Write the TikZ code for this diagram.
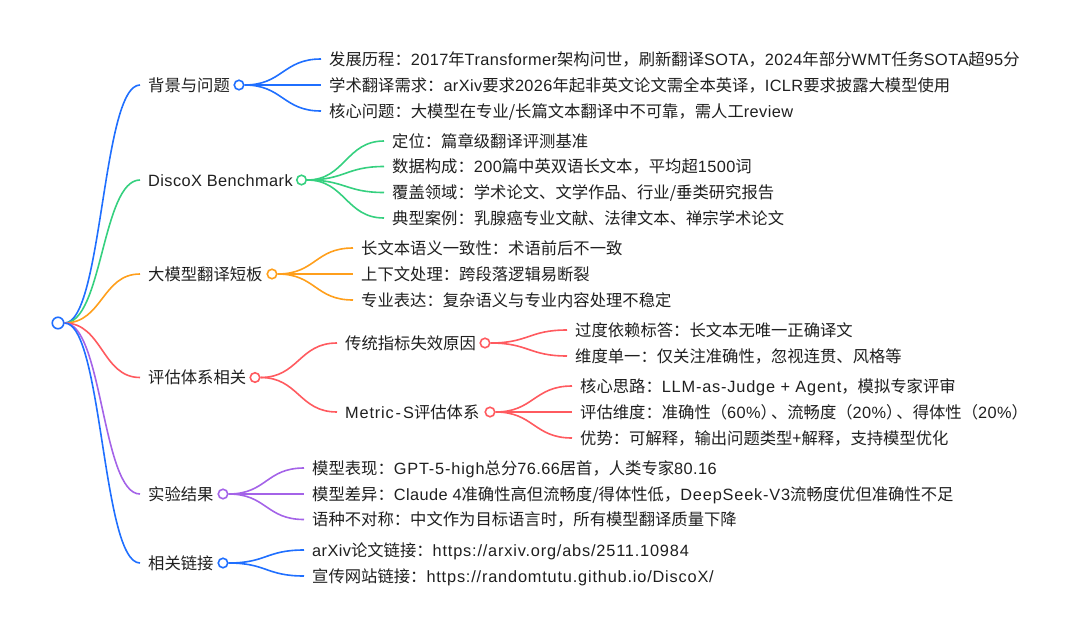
\documentclass[tikz,border=0pt]{standalone}
\usepackage{fontspec}
\usepackage{tikz}
\setmainfont{Noto Sans CJK SC}
\newfontfamily\latfont[LetterSpace=2.5]{Liberation Sans}
\newfontfamily\latwfont[LetterSpace=5]{Liberation Sans}
\newcommand{\lat}[1]{{\latfont #1}}
\newcommand{\latw}[1]{{\latwfont #1}}
\definecolor{cblue}{HTML}{1F6FFF}
\definecolor{cgreen}{HTML}{35D07F}
\definecolor{corange}{HTML}{FF9F1C}
\definecolor{cred}{HTML}{FF5A5F}
\definecolor{cpurple}{HTML}{A463E8}
\tikzset{
	label/.style={anchor=west,inner xsep=8pt,inner ysep=0pt,text height=14pt,text depth=2pt,font=\fontsize{16.33}{16.33}\selectfont,text=black!88},
	dot/.style={circle,draw=#1,fill=white,line width=1.6pt,minimum size=9.5pt,inner sep=0pt},
	link/.style={draw=#1,line width=1.6pt}
}
\begin{document}
\begin{tikzpicture}[x=1pt,y=-1pt]
	\useasboundingbox (0,0) rectangle (1080,635);
	\node[dot=cblue,minimum size=11.5pt] (root) at (58,323) {};

	\node[label] (bg) at (140,85) {背景与问题};
	\node[dot=cblue] (bgdot) at (239,85) {};
	\node[label] (bga) at (321,59) {发展历程：\lat{2017}年\lat{Transformer}架构问世，刷新翻译\lat{SOTA}，\lat{2024}年部分\lat{WMT}任务\lat{SOTA}超\lat{95}分};
	\node[label] (bgb) at (321,85) {学术翻译需求：\lat{arXiv}要求\lat{2026}年起非英文论文需全本英译，\lat{ICLR}要求披露大模型使用};
	\node[label] (bgc) at (321,111) {核心问题：大模型在专业/长篇文本翻译中不可靠，需人工\lat{review}};

	\node[label] (dx) at (140,180) {\lat{DiscoX Benchmark}};
	\node[dot=cgreen] (dxdot) at (301.5,180) {};
	\node[label] (dxa) at (384,141) {定位：篇章级翻译评测基准};
	\node[label] (dxb) at (384,166.5) {数据构成：\lat{200}篇中英双语长文本，平均超\lat{1500}词};
	\node[label] (dxc) at (384,192.5) {覆盖领域：学术论文、文学作品、行业/垂类研究报告};
	\node[label] (dxd) at (384,218) {典型案例：乳腺癌专业文献、法律文本、禅宗学术论文};

	\node[label] (lm) at (140,274) {大模型翻译短板};
	\node[dot=corange] (lmdot) at (272,274) {};
	\node[label] (lma) at (353,248) {长文本语义一致性：术语前后不一致};
	\node[label] (lmb) at (353,274) {上下文处理：跨段落逻辑易断裂};
	\node[label] (lmc) at (353,300) {专业表达：复杂语义与专业内容处理不稳定};

	\node[label] (ev) at (140,377.5) {评估体系相关};
	\node[dot=cred] (evdot) at (255,377.5) {};
	\node[label] (ct) at (337,343) {传统指标失效原因};
	\node[dot=cred] (ctdot) at (485,343) {};
	\node[label] (cta) at (567,330) {过度依赖标答：长文本无唯一正确译文};
	\node[label] (ctb) at (567,356) {维度单一：仅关注准确性，忽视连贯、风格等};
	\node[label] (ms) at (337,412) {\latw{Metric\kern2pt-\kern2pt S}评估体系};
	\node[dot=cred] (msdot) at (490,412) {};
	\node[label] (msa) at (572,386) {核心思路：\latw{LLM-as-Judge + Agent}，模拟专家评审};
	\node[label] (msb) at (572,412) {评估维度：准确性（\lat{60\%}）\kern-6pt、流畅度（\lat{20\%}）\kern-6pt、得体性（\lat{20\%}）};
	\node[label] (msc) at (572,438) {优势：可解释，输出问题类型+解释，支持模型优化};

	\node[label] (ex) at (140,494) {实验结果};
	\node[dot=cpurple] (exdot) at (223,494) {};
	\node[label] (exa) at (304,468) {模型表现：\latw{GPT-5-high}总分\lat{76.66}居首，人类专家\lat{80.16}};
	\node[label] (exb) at (304,494) {模型差异：\lat{Claude 4}准确性高但流畅度/得体性低，\latw{DeepSeek-V3}流畅度优但准确性不足};
	\node[label] (exc) at (304,519.5) {语种不对称：中文作为目标语言时，所有模型翻译质量下降};

	\node[label] (rl) at (140,563) {相关链接};
	\node[dot=cblue] (rldot) at (223,563) {};
	\node[label] (rla) at (304,550) {\lat{arXiv}论文链接：\latw{https://arxiv.org/abs/2511.10984}};
	\node[label] (rlb) at (304,576) {宣传网站链接：\latw{https://randomtutu.github.io/DiscoX/}};

	\draw[link=cblue] (root.east) .. controls +(38,0) and +(-38,0) .. (bg.west);
	\draw[link=cgreen] (root.east) .. controls +(38,0) and +(-38,0) .. (dx.west);
	\draw[link=corange] (root.east) .. controls +(38,0) and +(-38,0) .. (lm.west);
	\draw[link=cred] (root.east) .. controls +(38,0) and +(-38,0) .. (ev.west);
	\draw[link=cpurple] (root.east) .. controls +(38,0) and +(-38,0) .. (ex.west);
	\draw[link=cblue] (root.east) .. controls +(38,0) and +(-38,0) .. (rl.west);

	\foreach \t in {bga,bgb,bgc}
		\draw[link=cblue] (bgdot.east) .. controls +(38,0) and +(-38,0) .. (\t.west);
	\foreach \t in {dxa,dxb,dxc,dxd}
		\draw[link=cgreen] (dxdot.east) .. controls +(38,0) and +(-38,0) .. (\t.west);
	\foreach \t in {lma,lmb,lmc}
		\draw[link=corange] (lmdot.east) .. controls +(38,0) and +(-38,0) .. (\t.west);
	\foreach \t in {ct,ms}
		\draw[link=cred] (evdot.east) .. controls +(38,0) and +(-38,0) .. (\t.west);
	\foreach \t in {cta,ctb}
		\draw[link=cred] (ctdot.east) .. controls +(38,0) and +(-38,0) .. (\t.west);
	\foreach \t in {msa,msb,msc}
		\draw[link=cred] (msdot.east) .. controls +(38,0) and +(-38,0) .. (\t.west);
	\foreach \t in {exa,exb,exc}
		\draw[link=cpurple] (exdot.east) .. controls +(38,0) and +(-38,0) .. (\t.west);
	\foreach \t in {rla,rlb}
		\draw[link=cblue] (rldot.east) .. controls +(38,0) and +(-38,0) .. (\t.west);
\end{tikzpicture}
\end{document}
